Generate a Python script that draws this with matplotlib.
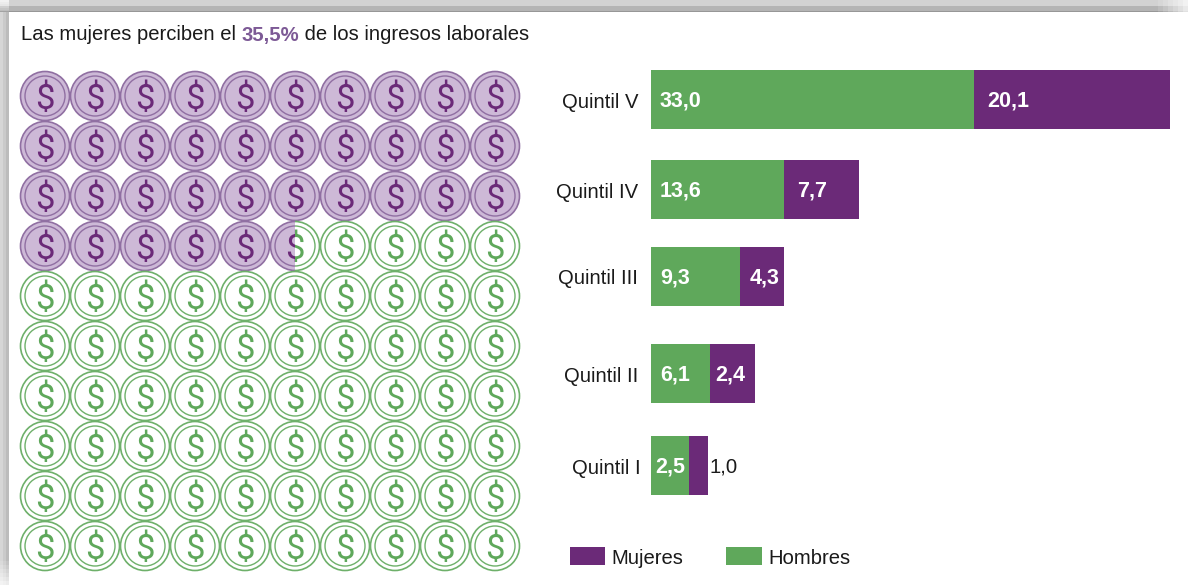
import matplotlib
matplotlib.use("Agg")
import matplotlib.pyplot as plt
from matplotlib.patches import Circle, Rectangle

FONT = ['Liberation Sans Narrow', 'Liberation Sans', 'DejaVu Sans']
plt.rcParams['font.family'] = FONT

PURPLE = '#6b2a78'
GREEN = '#5fa85b'
PURPLE_LIGHT = '#cdb9d7'
PURPLE_EDGE = '#906fa2'
GREEN_EDGE = '#6eb06a'
TEXT = '#1a1a1a'

quintiles = ['Quintil V', 'Quintil IV', 'Quintil III', 'Quintil II', 'Quintil I']
hombres_labels = ['33,0', '13,6', '9,3', '6,1', '2,5']
mujeres_labels = ['20,1', '7,7', '4,3', '2,4', '1,0']
# bar lengths as drawn in the picture (the small ones are not to scale with their labels)
hombres = [33.0, 13.6, 9.1, 6.0, 3.9]
mujeres = [20.0, 7.7, 4.5, 4.6, 1.9]
bar_y = [99.5, 189.5, 276.5, 373.5, 465.5]
label_x = [638, 638, 638, 638, 641]
inner_pad = [13, 13, 10, 6]

pct_mujeres = 35.5
n_rows = 10
n_cols = 10

fig = plt.figure(figsize=(11.88, 5.85), dpi=100)
ax = fig.add_axes([0, 0, 1, 1])
ax.set_xlim(0, 1188)
ax.set_ylim(585, 0)
ax.axis('off')

# frame shadow, top and left, fading out at the corners
ax.add_patch(Rectangle((0, 0), 1188, 6, color='#d2d2d2', lw=0))
ax.add_patch(Rectangle((0, 6), 1188, 5, color='#b4b4b4', lw=0))
ax.add_patch(Rectangle((0, 11), 1188, 1, color='#979797', lw=0))
ax.add_patch(Rectangle((0, 12), 3, 573, color='#d6d6d6', lw=0))
ax.add_patch(Rectangle((3, 12), 3, 573, color='#cacaca', lw=0))
ax.add_patch(Rectangle((6, 12), 3, 573, color='#bcbcbc', lw=0))
for i in range(6):
    a = 0.12 * (i + 1)
    ax.add_patch(Rectangle((1188 - (6 - i) * 5, 0), 5, 12, color='white', alpha=a, lw=0))
    ax.add_patch(Rectangle((0, 585 - (6 - i) * 4), 9, 4, color='white', alpha=a, lw=0))
    ax.add_patch(Rectangle((0, (5 - i) * 2), 9, 2, color='white', alpha=a, lw=0))


def draw_coin(cx, cy, fill, edge, sign, clip=None):
    parts = [
        Circle((cx, cy), 24.5, facecolor=fill, edgecolor=edge, lw=1.2),
        Circle((cx, cy), 20, facecolor='none', edgecolor=edge, lw=1.0),
    ]
    for p in parts:
        ax.add_patch(p)
        if clip is not None:
            p.set_clip_path(clip)
    t = ax.text(cx - 0.5, cy, '$', color=sign, fontsize=25, ha='center', va='center_baseline',
                family=['Roboto', 'Liberation Sans'], clip_on=True)
    if clip is not None:
        t.set_clip_path(clip)


k = 0
for r in range(n_rows):
    for c in range(n_cols):
        cx = 45 + c * 50
        cy = 96 + r * 50
        share = min(1, max(0, pct_mujeres - k))
        if share >= 1:
            draw_coin(cx, cy, PURPLE_LIGHT, PURPLE_EDGE, PURPLE)
        elif share <= 0:
            draw_coin(cx, cy, 'white', GREEN_EDGE, GREEN)
        else:
            split = cx - 25 + share * 50
            left = Rectangle((cx - 26, cy - 26), split - cx + 26, 52, transform=ax.transData)
            right = Rectangle((split, cy - 26), cx + 26 - split, 52, transform=ax.transData)
            draw_coin(cx, cy, 'white', GREEN_EDGE, GREEN, clip=right)
            draw_coin(cx, cy, PURPLE_LIGHT, PURPLE_EDGE, PURPLE, clip=left)
        k += 1

# title in three colour pieces
fig.canvas.draw()
renderer = fig.canvas.get_renderer()
x = 21
for txt, col, wt in [('Las mujeres perciben el ', TEXT, 'normal'),
                     ('35,5%', '#7d5a96', 'bold'),
                     (' de los ingresos laborales', TEXT, 'normal')]:
    t = ax.text(x, 35, txt.replace(' ', '\u00a0'), color=col, fontsize=14.6, fontweight=wt,
                ha='left', va='center')
    x = ax.transData.inverted().transform(t.get_window_extent(renderer))[1][0]

# stacked bars, x axis scaled to the 33,0 bar (323 px)
x0 = 651
px_per_unit = 323 / 33.0
axb = fig.add_axes([x0 / 1188, 0, (1188 - x0) / 1188, 1])
axb.set_xlim(0, (1188 - x0) / px_per_unit)
axb.set_ylim(585, 0)
axb.axis('off')
axb.patch.set_alpha(0)

axb.barh(bar_y, hombres, height=59, color=GREEN)
axb.barh(bar_y, mujeres, left=hombres, height=59, color=PURPLE)

for i, y in enumerate(bar_y):
    ax.text(label_x[i], y + 2.5, quintiles[i], fontsize=14.6, color=TEXT, ha='right', va='center')
    inner_x = 9 if i < 4 else 4
    ax.text(x0 + inner_x, y + 1.5, hombres_labels[i], fontsize=15.5, fontweight='bold',
            color='white', ha='left', va='center')
    end = x0 + hombres[i] * px_per_unit
    if i < 4:
        ax.text(end + inner_pad[i], y + 1.5, mujeres_labels[i], fontsize=15.5, fontweight='bold',
                color='white', ha='left', va='center', zorder=5)
    else:
        ax.text(end + mujeres[i] * px_per_unit + 2, y + 1.5, mujeres_labels[i], fontsize=14.6,
                color=TEXT, ha='left', va='center')
ax.set_zorder(2)
ax.patch.set_alpha(0)

# legend
ax.add_patch(Rectangle((570, 547), 35, 18, color=PURPLE, lw=0))
ax.text(611, 558, 'Mujeres', fontsize=14.6, color=TEXT, ha='left', va='center')
ax.add_patch(Rectangle((726, 547), 36, 18, color=GREEN, lw=0))
ax.text(768, 558, 'Hombres', fontsize=14.6, color=TEXT, ha='left', va='center')

fig.savefig('out.png', dpi=100)
